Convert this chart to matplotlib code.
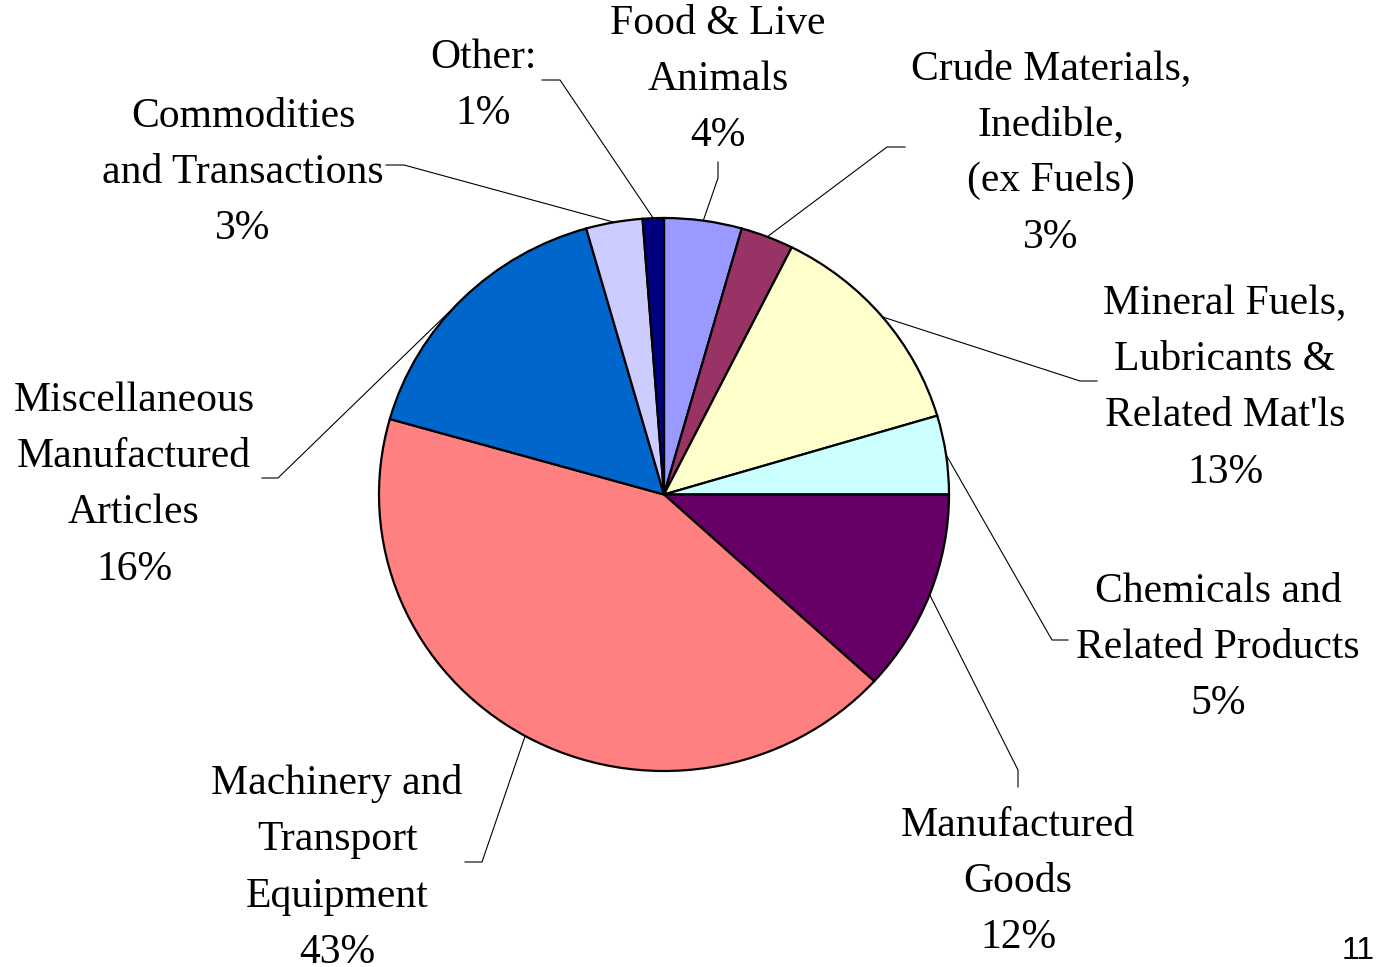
import matplotlib
matplotlib.use("Agg")
import matplotlib.pyplot as plt
import numpy as np

# shares of total (percent), clockwise from 12 o'clock
names = ["Food & Live\nAnimals",
         "Crude Materials,\nInedible,\n(ex Fuels)",
         "Mineral Fuels,\nLubricants &\nRelated Mat'ls",
         "Chemicals and\nRelated Products",
         "Manufactured\nGoods",
         "Machinery and\nTransport\nEquipment",
         "Miscellaneous\nManufactured\nArticles",
         "Commodities\nand Transactions",
         "Other:"]
values = [4.4, 3.0, 13.0, 4.6, 11.8, 42.6, 16.2, 3.2, 1.2]
colors = ["#9999FF", "#993366", "#FFFFCC", "#CCFFFF", "#660066",
          "#FF8080", "#0066CC", "#CCCCFF", "#000080"]

# label layout (pixels): text centre, leader elbow, leader end
text_pos = [(718, 80), (1051, 153), (1225, 388), (1218, 648), (1018, 882),
            (337, 868), (134, 485), (243, 173), (483, 86)]
elbows = [(718, 178), (887, 147), (1080, 381), (1052, 640), (1018, 770),
          (482, 862), (278, 478), (404, 165), (560, 80)]
ends = [(718, 162), (905, 147), (1097, 381), (1068, 640), (1018, 787),
        (465, 862), (262, 478), (386, 165), (542, 80)]

W, H = 1379, 967
fig = plt.figure(figsize=(W / 100, H / 100), dpi=100)

axp = fig.add_axes([379 / W, 1 - 771 / H, 570 / W, 553 / H])
wedges, _ = axp.pie(values, colors=colors, startangle=90, counterclock=False,
                    wedgeprops=dict(edgecolor="black", linewidth=1.6))
for w in wedges:
    w.set_clip_on(False)
axp.set_aspect("auto")
axp.set_xlim(-1, 1)
axp.set_ylim(-1, 1)
axp.axis("off")

ax = fig.add_axes([0, 0, 1, 1])
ax.set_xlim(0, W)
ax.set_ylim(H, 0)
ax.axis("off")

font = ["Liberation Serif", "DejaVu Serif"]
for i, w in enumerate(wedges):
    mid = np.deg2rad((w.theta1 + w.theta2) / 2)
    disp = axp.transData.transform((np.cos(mid), np.sin(mid)))
    sx, sy = ax.transData.inverted().transform(disp)
    ax.plot([sx, elbows[i][0], ends[i][0]], [sy, elbows[i][1], ends[i][1]],
            color="black", linewidth=0.8)
    label = "{}\n{:.0f}%".format(names[i], round(values[i]))
    ax.text(text_pos[i][0], text_pos[i][1], label, ha="center", va="center",
            multialignment="center", fontsize=30, family=font, linespacing=1.6)

ax.text(1358, 966, "11", ha="center", va="bottom", fontsize=23,
        family=["Liberation Sans", "DejaVu Sans"])

fig.savefig("out.png", dpi=100)
